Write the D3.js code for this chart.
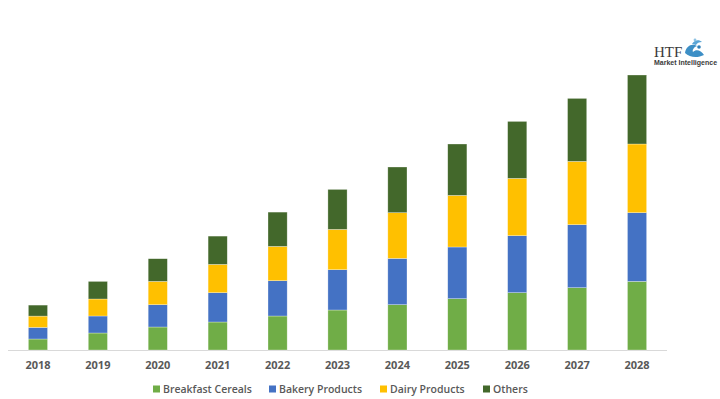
<!DOCTYPE html>
<html>
<head>
<meta charset="utf-8">
<script src="https://cdn.jsdelivr.net/npm/d3@7"></script>
<style>
  body { margin: 0; background: #fff; }
  svg { display: block; font-family: "Open Sans", "Liberation Sans", sans-serif; }
</style>
</head>
<body>
<svg width="720" height="399"></svg>
<script>
// values (relative market size, no axis shown)
var years = ["2018", "2019", "2020", "2021", "2022", "2023", "2024", "2025", "2026", "2027", "2028"];
var breakfastCereals = [1.10, 1.70, 2.30, 2.80, 3.40, 4.00, 4.53, 5.13, 5.73, 6.23, 6.86];
var bakeryProducts   = [1.16, 1.70, 2.23, 2.93, 3.53, 4.03, 4.63, 5.17, 5.70, 6.30, 6.87];
var dairyProducts    = [1.13, 1.70, 2.33, 2.83, 3.43, 4.03, 4.57, 5.16, 5.73, 6.33, 6.87];
var others           = [1.10, 1.76, 2.27, 2.83, 3.43, 4.00, 4.57, 5.14, 5.70, 6.30, 6.90];
var seriesNames = ["Breakfast Cereals", "Bakery Products", "Dairy Products", "Others"];
var seriesColors = ["#70AD47", "#4472C4", "#FFC000", "#43682B"];

var svg = d3.select("svg"),
    margin = { top: 75, right: 53, bottom: 49, left: 8 },
    width = +svg.attr("width") - margin.left - margin.right,
    height = +svg.attr("height") - margin.top - margin.bottom,
    g = svg.append("g").attr("transform", "translate(" + margin.left + "," + margin.top + ")");

var table = years.map(function (y, i) {
    return {
        year: y,
        "Breakfast Cereals": breakfastCereals[i],
        "Bakery Products": bakeryProducts[i],
        "Dairy Products": dairyProducts[i],
        "Others": others[i]
    };
});

var stack = d3.stack().keys(seriesNames)(table);

var x = d3.scaleBand()
    .domain(years)
    .range([0, width])
    .paddingInner(0.68)
    .paddingOuter(0.34);

var y = d3.scaleLinear()
    .domain([0, d3.max(stack[stack.length - 1], function (d) { return d[1]; })])
    .range([height, 0]);

var color = d3.scaleOrdinal().domain(seriesNames).range(seriesColors);

// baseline
g.append("line")
    .attr("x1", 0).attr("x2", width)
    .attr("y1", height + 0.5).attr("y2", height + 0.5)
    .attr("stroke", "#d9d9d9");

g.selectAll(".series")
    .data(stack)
    .enter().append("g")
    .attr("class", "series")
    .attr("fill", function (d) { return color(d.key); })
    .selectAll("rect")
    .data(function (d) { return d; })
    .enter().append("rect")
    .attr("x", function (d) { return x(d.data.year); })
    .attr("width", x.bandwidth())
    .attr("y", function (d) { return y(d[1]); })
    .attr("height", function (d) { return y(d[0]) - y(d[1]); })
    .attr("stroke", "#ffffff")
    .attr("stroke-opacity", 0.5)
    .attr("stroke-width", 0.6);

var xAxis = g.append("g")
    .attr("transform", "translate(0," + height + ")")
    .call(d3.axisBottom(x).tickSize(0).tickPadding(11));
xAxis.select(".domain").remove();
xAxis.selectAll("text")
    .attr("fill", "#595959")
    .attr("font-size", "11px")
    .attr("font-weight", 700)
    .attr("font-family", "\"Open Sans\", sans-serif");

// legend
var legendX = [153, 269, 380, 483];
var legend = svg.append("g").attr("class", "legend");
seriesNames.forEach(function (name, i) {
    var item = legend.append("g").attr("transform", "translate(" + legendX[i] + ",389)");
    item.append("rect")
        .attr("x", 0).attr("y", -3.5)
        .attr("width", 7).attr("height", 7)
        .attr("fill", seriesColors[i]);
    item.append("text")
        .attr("x", 10).attr("y", 0)
        .attr("dy", "0.35em")
        .attr("fill", "#595959")
        .attr("font-size", "10.5px")
        .attr("font-weight", 600)
        .text(name);
});

// HTF logo
var logo = svg.append("g").attr("class", "logo");
logo.append("text")
    .attr("x", 654).attr("y", 57)
    .attr("font-family", "\"Liberation Serif\", serif")
    .attr("font-size", "15px")
    .attr("fill", "#3a3a3a")
    .text("HTF");
logo.append("path")
    .attr("d", "M685,53 C686,46 692,43 697,46 C694,47 692,50 693,52 C696,49 701,50 704,55 C698,58 690,58 685,53 Z")
    .attr("fill", "#3d8fc6");
logo.append("path")
    .attr("d", "M692,44 C694,40 699,39 702,42 C699,42 697,43 696,45 Z")
    .attr("fill", "#5aa5d6");
logo.append("circle").attr("cx", 699).attr("cy", 47).attr("r", 1.8).attr("fill", "#2f7fb8");
logo.append("circle").attr("cx", 695).attr("cy", 40).attr("r", 1.4).attr("fill", "#8fc3e3");
logo.append("text")
    .attr("x", 654).attr("y", 65)
    .attr("font-family", "\"Liberation Sans\", sans-serif")
    .attr("font-size", "7px")
    .attr("font-weight", 700)
    .attr("fill", "#3a3a3a")
    .text("Market Intelligence");
</script>
</body>
</html>
